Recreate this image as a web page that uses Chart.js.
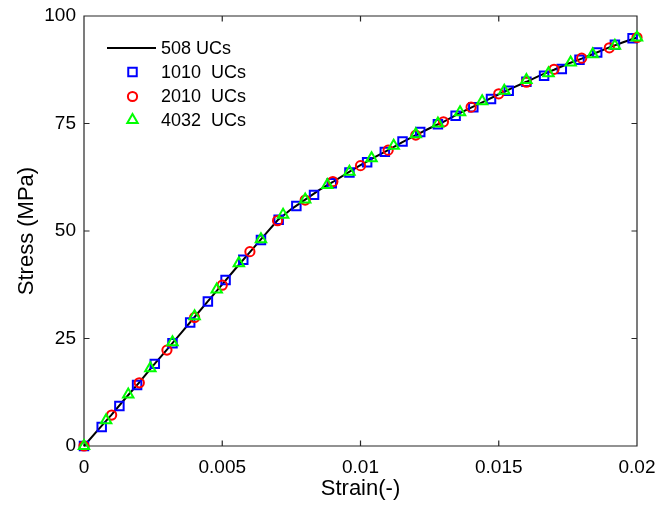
<!DOCTYPE html>
<html>
<head>
<meta charset="utf-8">
<script src="https://cdn.jsdelivr.net/npm/chart.js@4.4.1/dist/chart.umd.min.js"></script>
<style>
  html, body { margin: 0; padding: 0; background: #ffffff; }
  canvas { display: block; }
</style>
</head>
<body>
<canvas id="chart" width="657" height="513"></canvas>
<script>
// Axis ticks
const xTickValues = [0, 0.005, 0.01, 0.015, 0.02];
const xTickLabels = ['0', '0.005', '0.01', '0.015', '0.02'];
const yTickValues = [0, 25, 50, 75, 100];
const yTickLabels = ['0', '25', '50', '75', '100'];

// Series names
const seriesNames = ['508 UCs', '1010  UCs', '2010  UCs', '4032  UCs'];

// 508 UCs (solid curve)
const strain508 = [0, 0.0005, 0.001, 0.0015, 0.002, 0.0025, 0.003, 0.0035, 0.004, 0.0045,
  0.005, 0.0055, 0.006, 0.0065, 0.007, 0.0075, 0.008, 0.0085, 0.009, 0.0095,
  0.01, 0.0105, 0.011, 0.0115, 0.012, 0.0125, 0.013, 0.0135, 0.014, 0.0145,
  0.015, 0.0155, 0.016, 0.0165, 0.017, 0.0175, 0.018, 0.0185, 0.019, 0.0195, 0.02];
const stress508 = [0, 3.7, 7.3, 11.1, 14.8, 18.7, 22.4, 26.2, 30.0, 33.8,
  37.6, 41.4, 45.1, 48.8, 52.5, 55.1, 57.3, 59.5, 61.4, 63.4,
  65.3, 67.1, 68.8, 70.6, 72.3, 73.9, 75.4, 77.1, 78.7, 80.2,
  81.8, 83.3, 84.7, 86.2, 87.5, 88.9, 90.1, 91.4, 92.7, 93.9, 95.0];

// 1010 UCs (squares)
const strain1010 = [0, 0.00064, 0.00128, 0.00192, 0.00256, 0.0032, 0.00384, 0.00448,
  0.00512, 0.00576, 0.0064, 0.00704, 0.00768, 0.00832, 0.00896, 0.0096,
  0.01024, 0.01088, 0.01152, 0.01216, 0.0128, 0.01344, 0.01408, 0.01472,
  0.01536, 0.016, 0.01664, 0.01728, 0.01792, 0.01856, 0.0192, 0.01984];
const stress1010 = [0, 4.4, 9.3, 14.2, 19.1, 23.9, 28.7, 33.6,
  38.6, 43.3, 47.9, 52.6, 55.8, 58.4, 61.1, 63.6,
  66.0, 68.4, 70.8, 73.0, 74.8, 76.8, 78.8, 80.7,
  82.6, 84.7, 86.1, 87.7, 89.8, 91.5, 93.3, 94.8];

// 2010 UCs (circles)
const strain2010 = [0, 0.001, 0.002, 0.003, 0.004, 0.005, 0.006, 0.007, 0.008, 0.009,
  0.01, 0.011, 0.012, 0.013, 0.014, 0.015, 0.016, 0.017, 0.018, 0.019, 0.02];
const stress2010 = [0, 7.2, 14.7, 22.3, 29.9, 37.4, 45.2, 52.4, 57.2, 61.5,
  65.2, 68.8, 72.3, 75.4, 78.8, 81.9, 84.6, 87.6, 90.2, 92.6, 95.0];

// 4032 UCs (triangles)
const strain4032 = [0, 0.0008, 0.0016, 0.0024, 0.0032, 0.004, 0.0048, 0.0056, 0.0064,
  0.0072, 0.008, 0.0088, 0.0096, 0.0104, 0.0112, 0.012, 0.0128, 0.0136, 0.0144,
  0.0152, 0.016, 0.0168, 0.0176, 0.0184, 0.0192, 0.02];
const stress4032 = [0, 6.0, 12.0, 18.1, 24.1, 30.2, 36.4, 42.5, 48.1,
  53.8, 57.3, 60.7, 63.8, 66.9, 69.8, 72.5, 75.0, 77.6, 80.2,
  82.6, 85.1, 86.7, 89.2, 91.1, 93.1, 95.0];

const toPoints = (xs, ys) => xs.map((x, i) => ({ x: x, y: ys[i] }));

const FONT = "'Liberation Sans', Arial, Helvetica, sans-serif";
const AXIS_COLOR = '#262626';

// Outline-only marker, same geometry as the chart's point styles
function strokeMarker(ctx, style, r, x, y) {
  ctx.beginPath();
  if (style === 'rect') {
    const s = Math.SQRT1_2 * r;
    ctx.rect(x - s, y - s, 2 * s, 2 * s);
  } else if (style === 'triangle') {
    let a = 0;
    ctx.moveTo(x + Math.sin(a) * r, y - Math.cos(a) * r);
    a += 2 * Math.PI / 3;
    ctx.lineTo(x + Math.sin(a) * r, y - Math.cos(a) * r);
    a += 2 * Math.PI / 3;
    ctx.lineTo(x + Math.sin(a) * r, y - Math.cos(a) * r);
    ctx.closePath();
  } else {
    ctx.arc(x, y, r, 0, Math.PI * 2);
  }
  ctx.stroke();
}

// Box around the plot with inward tick marks on all four sides
const axesBox = {
  id: 'axesBox',
  beforeDatasetsDraw(chart) {
    const { ctx, chartArea: a, scales } = chart;
    const tl = 5.5;
    ctx.save();
    ctx.strokeStyle = AXIS_COLOR;
    ctx.lineWidth = 1.2;
    ctx.beginPath();
    ctx.rect(a.left, a.top, a.right - a.left, a.bottom - a.top);
    xTickValues.forEach(v => {
      const px = scales.x.getPixelForValue(v);
      ctx.moveTo(px, a.bottom); ctx.lineTo(px, a.bottom - tl);
      ctx.moveTo(px, a.top); ctx.lineTo(px, a.top + tl);
    });
    yTickValues.forEach(v => {
      const py = scales.y.getPixelForValue(v);
      ctx.moveTo(a.left, py); ctx.lineTo(a.left + tl, py);
      ctx.moveTo(a.right, py); ctx.lineTo(a.right - tl, py);
    });
    ctx.stroke();
    ctx.restore();
  }
};

// Legend in the upper left corner, without a frame
const cornerLegend = {
  id: 'cornerLegend',
  afterDatasetsDraw(chart) {
    const { ctx, chartArea: a } = chart;
    const rowY = [a.top + 32, a.top + 56, a.top + 80.5, a.top + 104];
    const markX = a.left + 48.5;
    const lineX0 = a.left + 23, lineX1 = a.left + 72;
    const textX = a.left + 77;
    ctx.save();
    ctx.font = '18px ' + FONT;
    ctx.textBaseline = 'middle';
    ctx.textAlign = 'left';
    chart.data.datasets.forEach((ds, i) => {
      const y = rowY[i];
      if (ds.showLine) {
        ctx.strokeStyle = ds.borderColor;
        ctx.lineWidth = ds.borderWidth;
        ctx.beginPath();
        ctx.moveTo(lineX0, y); ctx.lineTo(lineX1, y);
        ctx.stroke();
      } else {
        ctx.strokeStyle = ds.pointBorderColor;
        ctx.lineWidth = ds.pointBorderWidth;
        strokeMarker(ctx, ds.pointStyle, ds.pointRadius, markX, y);
      }
      ctx.fillStyle = '#000000';
      ctx.fillText(ds.label, textX, y + 1);
    });
    ctx.restore();
  }
};

const markerSet = (style, color, r, order) => ({
  showLine: false,
  pointStyle: style,
  pointRadius: r,
  pointHoverRadius: r,
  pointBorderColor: color,
  pointBackgroundColor: 'rgba(0,0,0,0)',
  pointBorderWidth: 2,
  borderColor: color,
  backgroundColor: 'rgba(0,0,0,0)',
  clip: false,
  order: order
});

new Chart(document.getElementById('chart'), {
  type: 'scatter',
  data: {
    datasets: [
      {
        label: seriesNames[0],
        data: toPoints(strain508, stress508),
        showLine: true,
        borderColor: '#000000',
        borderWidth: 2,
        pointRadius: 0,
        pointHoverRadius: 0,
        tension: 0,
        clip: false,
        order: 3
      },
      Object.assign({ label: seriesNames[1], data: toPoints(strain1010, stress1010) }, markerSet('rect', '#0000ff', 6, 2)),
      Object.assign({ label: seriesNames[2], data: toPoints(strain2010, stress2010) }, markerSet('circle', '#ff0000', 4.6, 1)),
      Object.assign({ label: seriesNames[3], data: toPoints(strain4032, stress4032) }, markerSet('triangle', '#00ff00', 6, 0))
    ]
  },
  options: {
    responsive: false,
    animation: false,
    devicePixelRatio: 1,
    layout: { padding: { left: 0, right: 20, top: 16, bottom: 0 } },
    plugins: {
      legend: { display: false },
      tooltip: { enabled: false },
      title: { display: false }
    },
    scales: {
      x: {
        type: 'linear',
        min: 0,
        max: 0.02,
        afterFit: s => { s.height = 67; s.paddingLeft = 0; s.paddingRight = 0; },
        afterBuildTicks: s => { s.ticks = xTickValues.map(v => ({ value: v })); },
        grid: { display: false, drawTicks: false },
        border: { display: false },
        ticks: {
          padding: 10,
          color: '#000000',
          font: { family: FONT, size: 19 },
          maxRotation: 0,
          autoSkip: false,
          callback: (v, i) => xTickLabels[i]
        },
        title: {
          display: true,
          text: 'Strain(-)',
          color: '#000000',
          font: { family: FONT, size: 22 },
          padding: { top: 0, bottom: 11 }
        }
      },
      y: {
        type: 'linear',
        min: 0,
        max: 100,
        afterFit: s => { s.width = 84; s.paddingTop = 0; s.paddingBottom = 0; },
        afterBuildTicks: s => { s.ticks = yTickValues.map(v => ({ value: v })); },
        grid: { display: false, drawTicks: false },
        border: { display: false },
        ticks: {
          padding: 8,
          color: '#000000',
          font: { family: FONT, size: 19 },
          autoSkip: false,
          callback: (v, i) => yTickLabels[i]
        },
        title: {
          display: true,
          text: 'Stress (MPa)',
          color: '#000000',
          font: { family: FONT, size: 22 },
          padding: { top: 14, bottom: 0 }
        }
      }
    }
  },
  plugins: [axesBox, cornerLegend]
});
</script>
</body>
</html>
